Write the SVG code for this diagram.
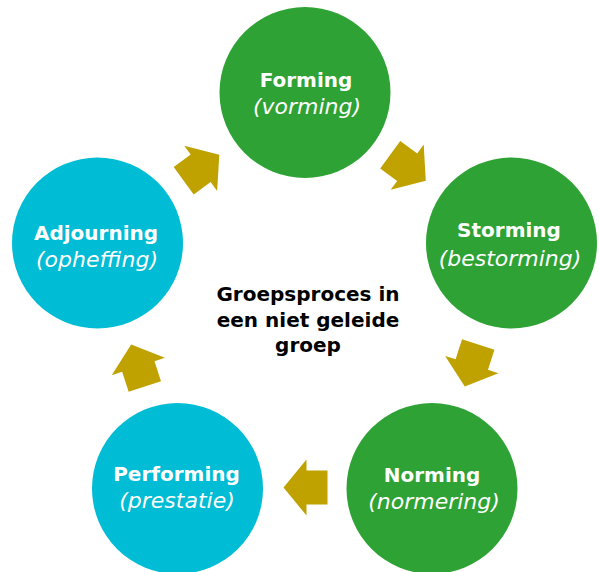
<svg xmlns="http://www.w3.org/2000/svg" width="599" height="572" viewBox="0 0 599 572">
<defs>
<style>
.green{fill:#2ea234}
.cyan{fill:#00bcd4}
.arrow{fill:#bfa200}
.title{font-family:"DejaVu Sans","Liberation Sans",sans-serif;font-weight:bold;font-size:20px;fill:#ffffff;text-anchor:middle}
.sub{font-family:"DejaVu Sans","Liberation Sans",sans-serif;font-style:italic;font-size:22px;fill:#ffffff;text-anchor:middle}
.center{font-family:"DejaVu Sans","Liberation Sans",sans-serif;font-weight:bold;font-size:20px;fill:#000000;text-anchor:middle}
</style>
<path id="blk" d="M-22,-17 L-1,-17 L-1,-28 L22,0 L-1,28 L-1,17 L-22,17 Z"/>
</defs>
<rect width="599" height="572" fill="#ffffff"/>
<g id="connectors">
<use href="#blk" class="arrow" transform="translate(201.5,167.75) rotate(-36)"/>
<use href="#blk" class="arrow" transform="translate(408,167.75) rotate(36.15)"/>
<use href="#blk" class="arrow" transform="translate(471.5,365.5) rotate(107.84)"/>
<use href="#blk" class="arrow" transform="translate(305.5,487.5) rotate(180)"/>
<use href="#blk" class="arrow" transform="translate(138,365.5) rotate(-108.05)"/>
</g>
<g id="forming">
<circle class="green" cx="305" cy="92.5" r="85.5"/>
<text class="title" x="306" y="87">Forming</text>
<text class="sub" x="307" y="114">(vorming)</text>
</g>
<g id="storming">
<circle class="green" cx="511.5" cy="243" r="85.5"/>
<text class="title" x="509" y="237">Storming</text>
<text class="sub" x="510" y="266">(bestorming)</text>
</g>
<g id="norming">
<circle class="green" cx="432" cy="488.5" r="85.5"/>
<text class="title" x="432" y="482">Norming</text>
<text class="sub" x="434" y="509">(normering)</text>
</g>
<g id="performing">
<circle class="cyan" cx="177.5" cy="488.5" r="85.5"/>
<text class="title" x="176.5" y="481">Performing</text>
<text class="sub" x="177" y="508">(prestatie)</text>
</g>
<g id="adjourning">
<circle class="cyan" cx="97.5" cy="243" r="85.5"/>
<text class="title" x="96" y="240">Adjourning</text>
<text class="sub" x="97" y="267">(opheffing)</text>
</g>
<g id="center-label">
<text class="center" x="308" y="301">Groepsproces in</text>
<text class="center" x="308" y="327">een niet geleide</text>
<text class="center" x="308" y="352">groep</text>
</g>
</svg>
